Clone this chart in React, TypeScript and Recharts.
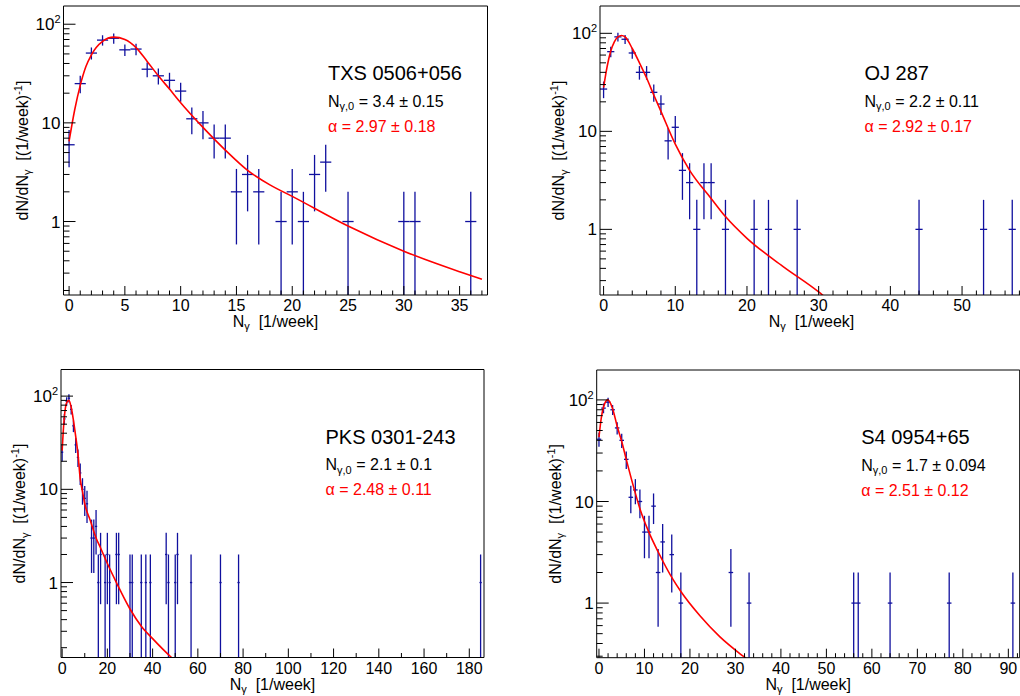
import React from "react";
import { ComposedChart, Scatter, Line, XAxis, YAxis, ErrorBar, ReferenceLine } from "recharts";

const FONT = "'Liberation Sans', Arial, Helvetica, sans-serif";
const BLUE = "#10109e";
const RED = "#ff0000";

// TXS 0506+056: weekly photon counts histogram
const txsN = [0, 1, 2, 3, 4, 5, 6, 7, 8, 9, 10, 11, 12, 13, 14, 15, 16, 17, 19, 20, 21, 22, 23, 25, 30, 31, 36];
const txsCounts = [6, 25, 51, 69, 72, 55, 56, 35, 30, 27, 21, 11, 10, 7, 7, 2, 3, 2, 1, 2, 1, 3, 4, 1, 1, 1, 1];
const txsFitX = [0, 0.5, 1, 1.5, 2, 3, 4, 5, 6, 7, 8, 9, 10, 12, 14, 16, 18, 20, 25, 30, 35, 37];
const txsFitY = [6.5, 13.5, 24, 37, 49, 67, 74, 70, 58, 42, 30, 22, 16, 9, 5.3, 3.3, 2.35, 1.8, 0.9, 0.5, 0.31, 0.26];

// OJ 287
const ojN = [0, 1, 2, 3, 4, 5, 6, 7, 8, 9, 10, 11, 12, 13, 14, 15, 17, 21, 23, 27, 44, 53, 57];
const ojCounts = [27, 65, 92, 87, 63, 40, 40, 25, 19, 8, 11, 4, 3, 1, 3, 3, 1, 1, 1, 1, 1, 1, 1];
const ojFitX = [0, 0.5, 1, 1.5, 2, 2.5, 3, 4, 5, 6, 7, 8, 10, 12, 15, 17, 20, 25, 30, 31];
const ojFitY = [28, 46, 66, 82, 92, 95, 92, 70, 50, 35, 23.5, 16, 7.4, 4.0, 2.07, 1.35, 0.81, 0.42, 0.23, 0.2];

// PKS 0301-243
const pksN = [0, 1, 2, 3, 4, 5, 6, 7, 8, 9, 10, 11, 13, 14, 15, 16, 17, 19, 20, 21, 24, 25, 30, 31, 35, 37, 39, 46, 47, 50, 51, 57, 70, 78, 185];
const pksCounts = [25, 57, 88, 95, 72, 48, 30, 22, 15, 10, 8, 7, 3, 3, 4, 1, 2, 1, 2, 1, 2, 2, 1, 1, 1, 1, 1, 2, 1, 1, 2, 1, 1, 1, 1];
const pksFitX = [0, 0.5, 1, 2, 3, 4, 5, 6, 7, 8, 9, 10, 12.5, 15, 17, 20, 24, 30, 35, 40, 48, 50];
const pksFitY = [26, 42, 60, 85, 90, 76, 55, 37, 24, 13, 9.5, 7.0, 4.6, 3.0, 2.35, 1.6, 1.0, 0.52, 0.34, 0.25, 0.16, 0.145];

// S4 0954+65
const s4N = [0, 1, 2, 3, 4, 5, 6, 7, 8, 9, 10, 11, 12, 13, 14, 16, 18, 29, 33, 56, 57, 64, 77, 91];
const s4Counts = [41, 83, 95, 80, 53, 40, 26, 11, 13, 10, 5, 5, 9, 2, 4, 3, 1, 2, 1, 1, 1, 1, 1, 1];
const s4FitX = [0, 0.5, 1, 1.9, 3, 4, 5, 6, 7.5, 9, 10.8, 13, 16.3, 18, 22.2, 26.6, 31.7, 33.5];
const s4FitY = [43, 66, 85, 100, 82, 55, 39, 26, 14.5, 8.5, 5.2, 3.2, 1.7, 1.3, 0.75, 0.465, 0.3, 0.26];

// log axis ticks
const yMajor = [1, 10, 100];
const yAllTicks = [0.1, 0.2, 0.3, 0.4, 0.5, 0.6, 0.7, 0.8, 0.9, 1, 2, 3, 4, 5, 6, 7, 8, 9, 10, 20, 30, 40, 50, 60, 70, 80, 90, 100, 200];

const AXIS_H = 30;
const AXIS_W = 40;

function range(a: number, b: number, step: number) {
  const out: number[] = [];
  for (let v = a; v <= b + 1e-9; v += step) out.push(Math.round(v * 1000) / 1000);
  return out;
}

const panels = [
  {
    name: "TXS 0506+056", n0: "3.4 ± 0.15", alpha: "2.97 ± 0.18",
    frame: { l: 63.5, t: 6, r: 487.5, b: 295 }, box: { x: 0, y: 0, w: 500, h: 340 },
    xDomain: [-0.5, 37.5], yDomain: [0.18, 153],
    xMajor: [0, 5, 10, 15, 20, 25, 30, 35], xStep: 1,
    ns: txsN, counts: txsCounts, fitX: txsFitX, fitY: txsFitY,
  },
  {
    name: "OJ 287", n0: "2.2 ± 0.11", alpha: "2.92 ± 0.17",
    frame: { l: 600, t: 6, r: 1023, b: 295 }, box: { x: 505, y: 0, w: 525, h: 340 },
    xDomain: [-0.5, 58.5], yDomain: [0.214, 190],
    xMajor: [0, 10, 20, 30, 40, 50], xStep: 2,
    ns: ojN, counts: ojCounts, fitX: ojFitX, fitY: ojFitY,
  },
  {
    name: "PKS 0301-243", n0: "2.1 ± 0.1", alpha: "2.48 ± 0.11",
    frame: { l: 61, t: 369.5, r: 484, b: 657.5 }, box: { x: 0, y: 340, w: 500, h: 356 },
    xDomain: [-0.5, 186.5], yDomain: [0.157, 193],
    xMajor: [0, 20, 40, 60, 80, 100, 120, 140, 160, 180], xStep: 10,
    ns: pksN, counts: pksCounts, fitX: pksFitX, fitY: pksFitY,
  },
  {
    name: "S4 0954+65", n0: "1.7 ± 0.094", alpha: "2.51 ± 0.12",
    frame: { l: 596.7, t: 370, r: 1019.7, b: 657.7 }, box: { x: 505, y: 340, w: 525, h: 356 },
    xDomain: [-0.5, 92.5], yDomain: [0.29, 197],
    xMajor: [0, 10, 20, 30, 40, 50, 60, 70, 80, 90], xStep: 2,
    ns: s4N, counts: s4Counts, fitX: s4FitX, fitY: s4FitY,
  },
];

function XTick(props: any) {
  const { x, y, payload, majors } = props;
  const major = majors.includes(payload.value);
  return (
    <g>
      <line x1={x} x2={x} y1={y} y2={y - (major ? 9 : 4.5)} stroke="#000" strokeWidth={1} />
      {major && (
        <text x={x} y={y + 16} textAnchor="middle" fontSize={16} fontFamily={FONT} fill="#000">
          {payload.value}
        </text>
      )}
    </g>
  );
}

function YTick(props: any) {
  const { x, y, payload } = props;
  const v = payload.value;
  const major = yMajor.includes(v);
  return (
    <g>
      <line x1={x} x2={x + (major ? 12 : 6)} y1={y} y2={y} stroke="#000" strokeWidth={1} />
      {major && (
        <text x={x - 3} y={y + 6} textAnchor="end" fontSize={17} fontFamily={FONT} fill="#000">
          {v === 100 ? (
            <>
              10<tspan dy={-7} fontSize={11}>2</tspan>
            </>
          ) : (
            String(v)
          )}
        </text>
      )}
    </g>
  );
}

function Panel({ cfg }: { cfg: any }) {
  const { frame, box, xDomain, yDomain } = cfg;
  const yMin = yDomain[0];
  // Poisson errors, lower end clamped at the frame bottom
  const pts = cfg.ns.map((x: number, i: number) => {
    const n = cfg.counts[i];
    const lo = Math.max(n - Math.sqrt(n), yMin);
    return { x, y: n, ex: 0.5, ey: [n - lo, Math.sqrt(n)] };
  });
  const fit = cfg.fitX.map((x: number, i: number) => ({ x, y: cfg.fitY[i] }));
  const xTicks = range(0, xDomain[1], cfg.xStep);
  const yTicks = yAllTicks.filter((v) => v >= yDomain[0] && v <= yDomain[1]);
  return (
    <div style={{ position: "absolute", left: box.x, top: box.y, width: box.w, height: box.h }}>
      <ComposedChart
        width={box.w}
        height={box.h}
        margin={{
          left: frame.l - box.x - AXIS_W,
          top: frame.t - box.y,
          right: box.x + box.w - frame.r,
          bottom: box.y + box.h - frame.b - AXIS_H,
        }}
      >
        <XAxis
          type="number"
          dataKey="x"
          domain={xDomain}
          allowDataOverflow
          ticks={xTicks}
          interval={0}
          height={AXIS_H}
          tickSize={0}
          tickMargin={0}
          tickLine={false}
          axisLine={{ stroke: "#000", strokeWidth: 1 }}
          tick={(p: any) => <XTick {...p} majors={cfg.xMajor} />}
        />
        <YAxis
          type="number"
          scale="log"
          domain={yDomain}
          allowDataOverflow
          ticks={yTicks}
          interval={0}
          width={AXIS_W}
          tickSize={0}
          tickMargin={0}
          tickLine={false}
          axisLine={{ stroke: "#000", strokeWidth: 1 }}
          tick={(p: any) => <YTick {...p} />}
        />
        <ReferenceLine y={yDomain[1]} stroke="#000" strokeWidth={1} />
        <ReferenceLine x={xDomain[1]} stroke="#000" strokeWidth={1} />
        <Scatter data={pts} dataKey="y" isAnimationActive={false} shape={() => <g />}>
          <ErrorBar dataKey="ey" direction="y" width={0} stroke={BLUE} strokeWidth={1.3} isAnimationActive={false} />
          <ErrorBar dataKey="ex" direction="x" width={0} stroke={BLUE} strokeWidth={1.3} isAnimationActive={false} />
        </Scatter>
        <Line
          data={fit}
          dataKey="y"
          type="monotone"
          stroke={RED}
          strokeWidth={1.6}
          dot={false}
          activeDot={false}
          isAnimationActive={false}
        />
      </ComposedChart>
    </div>
  );
}

function Labels() {
  return (
    <svg
      width={1020}
      height={696}
      style={{ position: "absolute", left: 0, top: 0, pointerEvents: "none" }}
      fontFamily={FONT}
    >
      {panels.map((p) => {
        const f = p.frame;
        const tx = f.l + 264.5;
        const cy = (f.t + f.b) / 2;
        const cx = (f.l + f.r) / 2;
        return (
          <g key={p.name}>
            <text x={tx} y={f.t + 74} fontSize={20} fill="#000">{p.name}</text>
            <text x={tx} y={f.t + 100.5} fontSize={16} fill="#000" style={{ whiteSpace: "pre" }}>
              N<tspan dy={3.5} fontSize={11}>γ,0</tspan>
              <tspan dy={-3.5}>{" = " + p.n0}</tspan>
            </text>
            <text x={tx} y={f.t + 125.5} fontSize={16} fill={RED} style={{ whiteSpace: "pre" }}>
              {"α = " + p.alpha}
            </text>
            <text x={cx} y={f.b + 32} fontSize={16} fill="#000" textAnchor="middle" style={{ whiteSpace: "pre" }}>
              N<tspan dy={3} fontSize={11}>γ</tspan>
              <tspan dy={-3}>{"  [1/week]"}</tspan>
            </text>
            <text
              x={f.l - 36}
              y={cy}
              fontSize={16}
              fill="#000"
              textAnchor="middle"
              transform={`rotate(-90 ${f.l - 36} ${cy})`}
              style={{ whiteSpace: "pre" }}
            >
              dN/dN<tspan dy={3.5} fontSize={11}>γ</tspan>
              <tspan dy={-3.5}>{"  [(1/week)"}</tspan>
              <tspan dy={-6} fontSize={11}>-1</tspan>
              <tspan dy={6}>]</tspan>
            </text>
          </g>
        );
      })}
    </svg>
  );
}

export default function App() {
  return (
    <div
      style={{
        position: "absolute",
        left: 0,
        top: 0,
        width: 1020,
        height: 696,
        overflow: "hidden",
        background: "#fff",
      }}
    >
      {panels.map((p) => (
        <Panel key={p.name} cfg={p} />
      ))}
      <Labels />
    </div>
  );
}
